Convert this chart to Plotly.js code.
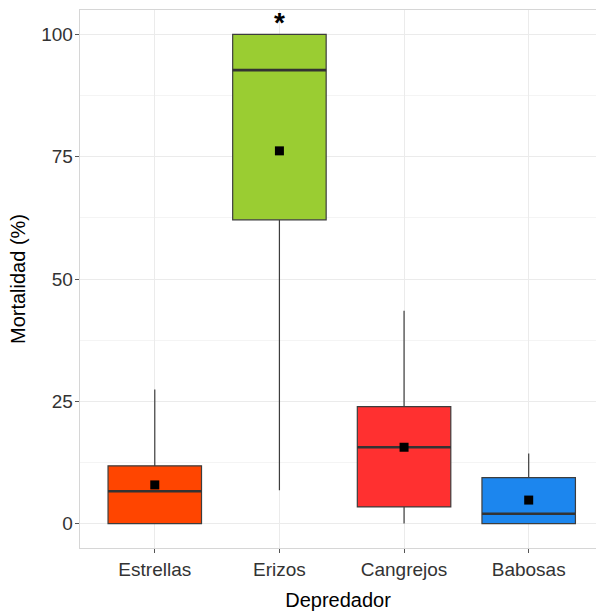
<!DOCTYPE html>
<html>
<head>
<meta charset="utf-8">
<script src="https://cdn.plot.ly/plotly-3.0.1.min.js"></script>
<style>
  html, body { margin: 0; padding: 0; background: #ffffff; }
  #chart { width: 596px; height: 615px; }
</style>
</head>
<body>
<div id="chart"></div>
<script>
// Mortalidad por depredador: resumen de cajas (percentil 25/50/75, bigotes y media)
const categorias = ['Estrellas', 'Erizos', 'Cangrejos', 'Babosas'];
const q1 = [0, 62.1, 3.4, 0];
const medianas = [6.6, 92.7, 15.6, 2.0];
const q3 = [11.8, 100, 23.9, 9.4];
const bigoteInf = [0, 6.8, 0, 0];
const bigoteSup = [27.4, 100, 43.5, 14.3];
const medias = [7.9, 76.2, 15.6, 4.8];
const colores = ['#FF4500', '#9ACD32', '#FF3030', '#1C86EE'];
const ticksY = [0, 25, 50, 75, 100];
const marcaSignificativa = ['', '*', '', ''];

const anchoCaja = 0.75;
const posiciones = categorias.map((_, i) => i);

const traces = [];

// Una caja por depredador, con su propio color de relleno
categorias.forEach((cat, i) => {
  traces.push({
    type: 'box',
    name: cat,
    x: [posiciones[i]],
    q1: [q1[i]],
    median: [medianas[i]],
    q3: [q3[i]],
    lowerfence: [bigoteInf[i]],
    upperfence: [bigoteSup[i]],
    width: anchoCaja,
    whiskerwidth: 0,
    boxpoints: false,
    fillcolor: colores[i],
    line: { color: '#3d3d3d', width: 1.2 },
    hoverinfo: 'skip',
    showlegend: false
  });
});

// Línea de la mediana más gruesa, a lo ancho de cada caja
const medX = [], medY = [];
categorias.forEach((_, i) => {
  medX.push(posiciones[i] - anchoCaja / 2, posiciones[i] + anchoCaja / 2, null);
  medY.push(medianas[i], medianas[i], null);
});
traces.push({
  type: 'scatter',
  mode: 'lines',
  x: medX,
  y: medY,
  line: { color: '#333333', width: 2.6 },
  hoverinfo: 'skip',
  showlegend: false
});

// Media de cada grupo (cuadrado negro)
traces.push({
  type: 'scatter',
  mode: 'markers',
  x: posiciones,
  y: medias,
  marker: { symbol: 'square', size: 9, color: '#000000' },
  hoverinfo: 'skip',
  showlegend: false
});

// Asterisco sobre el grupo con diferencias significativas
const anotaciones = [];
categorias.forEach((_, i) => {
  if (marcaSignificativa[i]) {
    anotaciones.push({
      x: posiciones[i],
      y: bigoteSup[i],
      xref: 'x',
      yref: 'y',
      text: '<b>' + marcaSignificativa[i] + '</b>',
      showarrow: false,
      yanchor: 'bottom',
      yshift: -6,
      font: { family: 'Liberation Sans, Arial, sans-serif', size: 28, color: '#000000' }
    });
  }
});

const layout = {
  width: 596,
  height: 615,
  margin: { l: 80, r: 0, t: 10, b: 67 },
  paper_bgcolor: '#ffffff',
  plot_bgcolor: '#ffffff',
  font: { family: 'Liberation Sans, Arial, sans-serif', color: '#333333' },
  showlegend: false,
  xaxis: {
    range: [-0.6, 3.54],
    tickmode: 'array',
    tickvals: posiciones,
    ticktext: categorias,
    tickfont: { size: 19, color: '#333333' },
    ticks: 'outside',
    ticklen: 4,
    tickwidth: 1,
    tickcolor: '#555555',
    showgrid: true,
    gridcolor: '#ebebeb',
    gridwidth: 1,
    zeroline: false,
    showline: true,
    mirror: true,
    linecolor: '#d6d6d6',
    linewidth: 1.3,
    title: {
      text: 'Depredador',
      font: { size: 20, color: '#000000' },
      standoff: 14
    }
  },
  yaxis: {
    range: [-5, 105],
    tickmode: 'array',
    tickvals: ticksY,
    tickfont: { size: 19, color: '#333333' },
    ticks: 'outside',
    ticklen: 4,
    tickwidth: 1,
    tickcolor: '#555555',
    ticklabelstandoff: -2,
    showgrid: true,
    gridcolor: '#ebebeb',
    gridwidth: 1,
    minor: { dtick: 12.5, tick0: 0, showgrid: true, gridcolor: '#f4f4f4', gridwidth: 1, ticks: '' },
    zeroline: false,
    showline: true,
    linecolor: '#d6d6d6',
    linewidth: 1.3,
    title: {
      text: 'Mortalidad (%)',
      font: { size: 20, color: '#000000' },
      standoff: 10
    }
  },
  annotations: anotaciones
};

Plotly.newPlot('chart', traces, layout, { displayModeBar: false, staticPlot: true });
</script>
</body>
</html>
